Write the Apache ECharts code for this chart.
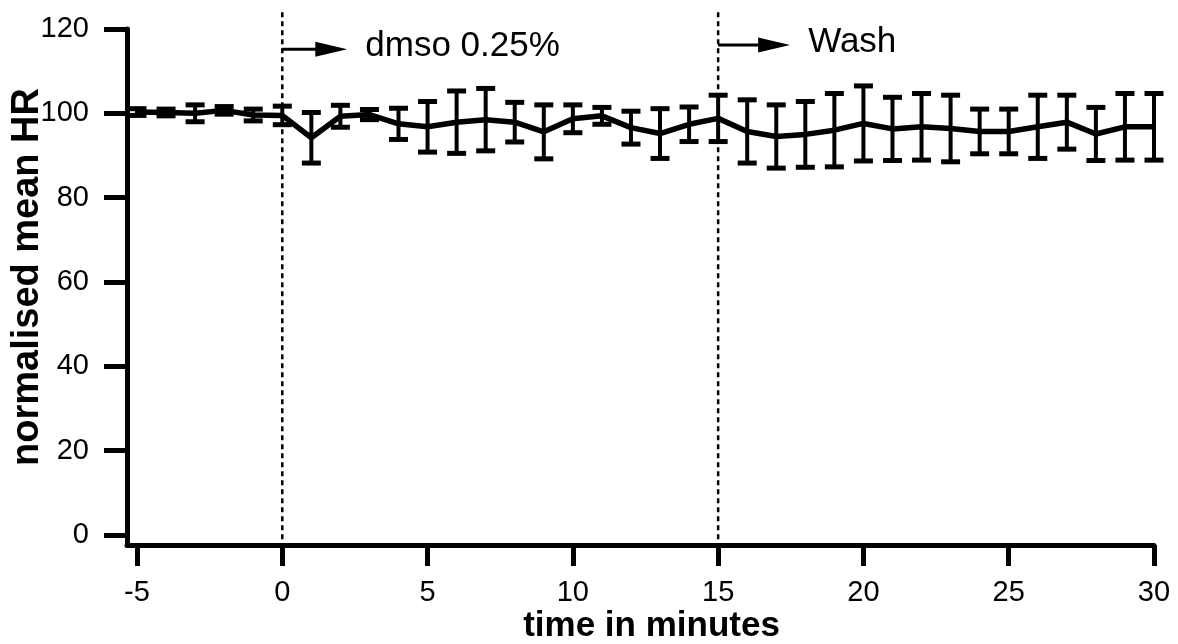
<!DOCTYPE html>
<html lang="en">
  <head>
    <meta charset="UTF-8" />
    <title>normalised mean HR</title>
    <script src="https://cdn.jsdelivr.net/npm/echarts@6/dist/echarts.min.js"></script>
    <style>
      html,
      body {
        margin: 0;
        background: #fff;
      }
      #chart {
        width: 1178px;
        height: 644px;
      }
    </style>
  </head>
  <body>
    <div id="chart"></div>
    <script>
      // time points (minutes) and mean +/- error
      const times = [
        -5, -4, -3, -2, -1, 0, 1, 2, 3, 4, 5, 6, 7, 8, 9, 10, 11, 12, 13, 14,
        15, 16, 17, 18, 19, 20, 21, 22, 23, 24, 25, 26, 27, 28, 29, 30,
      ];
      const means = [
        100.3, 100.2, 100.0, 100.7, 99.6, 99.5, 94.2, 99.3, 99.7, 97.5, 96.8,
        97.9, 98.5, 97.9, 95.6, 98.7, 99.4, 96.6, 95.2, 97.4, 98.8, 95.7, 94.5,
        95.0, 96.0, 97.6, 96.3, 96.8, 96.4, 95.7, 95.7, 96.8, 97.9, 95.1, 96.8,
        96.8,
      ];
      const errors = [
        0.8, 0.8, 2.0, 0.9, 1.4, 2.2, 6.0, 2.6, 1.2, 3.7, 6.0, 7.4, 7.4, 4.7,
        6.4, 3.3, 2.0, 3.9, 5.9, 4.1, 5.5, 7.5, 7.5, 7.8, 8.7, 8.9, 7.5, 7.9,
        7.9, 5.3, 5.3, 7.5, 6.4, 6.3, 7.9, 7.9,
      ];
      const xTicks = [-5, 0, 5, 10, 15, 20, 25, 30];
      const yTicks = [0, 20, 40, 60, 80, 100, 120];
      // treatment events
      const eventTimes = [0, 15];
      const eventLabels = ["dmso 0.25%", "Wash"];

      const FONT = "Liberation Sans, Arial, sans-serif";
      const X_MIN = -5.344; // axis starts a bit left of -5 (offset corner)
      const Y_MIN = -2.4; // and a bit below 0

      const chart = echarts.init(document.getElementById("chart"));

      const lineData = times.map((t, i) => [t, means[i]]);
      const errData = times.map((t, i) => [t, means[i] - errors[i], means[i] + errors[i]]);

      const option = {
        backgroundColor: "#fff",
        animation: false,
        grid: {
          left: 127,
          right: 24,
          top: 29,
          bottom: 99,
          containLabel: false,
          outerBoundsMode: "none",
        },
        xAxis: {
          type: "value",
          min: X_MIN,
          max: 30,
          name: "time in minutes",
          nameLocation: "middle",
          nameGap: 64,
          nameMoveOverlap: false,
          nameTextStyle: {
            fontFamily: FONT,
            fontWeight: "bold",
            fontSize: 35,
            color: "#000",
            padding: [0, 0, 0, 22],
          },
          axisLine: { onZero: false, lineStyle: { color: "#000", width: 5 } },
          axisTick: {
            customValues: xTicks,
            length: 21,
            lineStyle: { color: "#000", width: 5 },
          },
          axisLabel: {
            customValues: xTicks,
            margin: 33,
            fontFamily: FONT,
            fontSize: 29,
            color: "#000",
          },
          splitLine: { show: false },
        },
        yAxis: {
          type: "value",
          min: Y_MIN,
          max: 120,
          name: "normalised mean HR",
          nameLocation: "middle",
          nameGap: 80,
          nameRotate: 90,
          nameMoveOverlap: false,
          nameTextStyle: {
            fontFamily: FONT,
            fontWeight: "bold",
            fontSize: 38,
            color: "#000",
            padding: [0, 0, 0, 20],
          },
          axisLine: { show: true, onZero: false, lineStyle: { color: "#000", width: 5 } },
          axisTick: {
            customValues: yTicks,
            length: 23,
            lineStyle: { color: "#000", width: 5 },
          },
          axisLabel: {
            customValues: yTicks,
            margin: 38,
            fontFamily: FONT,
            fontSize: 29,
            color: "#000",
          },
          splitLine: { show: false },
        },
        series: [
          // dotted event lines + arrows + labels
          {
            type: "custom",
            silent: true,
            data: eventTimes.map((t) => [t]),
            renderItem: (params, api) => {
              const t = api.value(0);
              const top = api.coord([t, 124]);
              const bot = api.coord([t, Y_MIN]);
              const ay = api.coord([t, params.dataIndex === 0 ? 115.2 : 116.2])[1];
              const len = params.dataIndex === 0 ? 65 : 72;
              const x = top[0];
              return {
                type: "group",
                children: [
                  {
                    type: "line",
                    shape: { x1: x, y1: top[1], x2: bot[0], y2: bot[1] },
                    style: { stroke: "#000", lineWidth: 2.5, lineDash: [5, 4] },
                  },
                  {
                    type: "line",
                    shape: { x1: x, y1: ay, x2: x + len - 20, y2: ay },
                    style: { stroke: "#000", lineWidth: 3 },
                  },
                  {
                    type: "polygon",
                    shape: {
                      points: [
                        [x + len - 32, ay - 7.5],
                        [x + len, ay],
                        [x + len - 32, ay + 7.5],
                      ],
                    },
                    style: { fill: "#000" },
                  },
                  {
                    type: "text",
                    x: x + len + 18,
                    y: ay - 3,
                    style: {
                      text: eventLabels[params.dataIndex],
                      fill: "#000",
                      font: "35px " + FONT,
                      verticalAlign: "middle",
                    },
                  },
                ],
              };
            },
          },
          // error bars
          {
            type: "custom",
            silent: true,
            data: errData,
            renderItem: (params, api) => {
              const t = api.value(0);
              const lo = api.coord([t, api.value(1)]);
              const hi = api.coord([t, api.value(2)]);
              const half = 9.5;
              const st = { stroke: "#000", lineWidth: 5 };
              return {
                type: "group",
                children: [
                  {
                    type: "line",
                    shape: { x1: hi[0], y1: hi[1], x2: lo[0], y2: lo[1] },
                    style: { stroke: "#000", lineWidth: 4 },
                  },
                  {
                    type: "line",
                    shape: { x1: hi[0] - half, y1: hi[1], x2: hi[0] + half, y2: hi[1] },
                    style: st,
                  },
                  {
                    type: "line",
                    shape: { x1: lo[0] - half, y1: lo[1], x2: lo[0] + half, y2: lo[1] },
                    style: st,
                  },
                ],
              };
            },
          },
          // mean line
          {
            type: "line",
            data: lineData,
            showSymbol: false,
            symbol: "none",
            lineStyle: { color: "#000", width: 5.5 },
            z: 3,
          },
        ],
      };

      chart.setOption(option);
    </script>
  </body>
</html>
